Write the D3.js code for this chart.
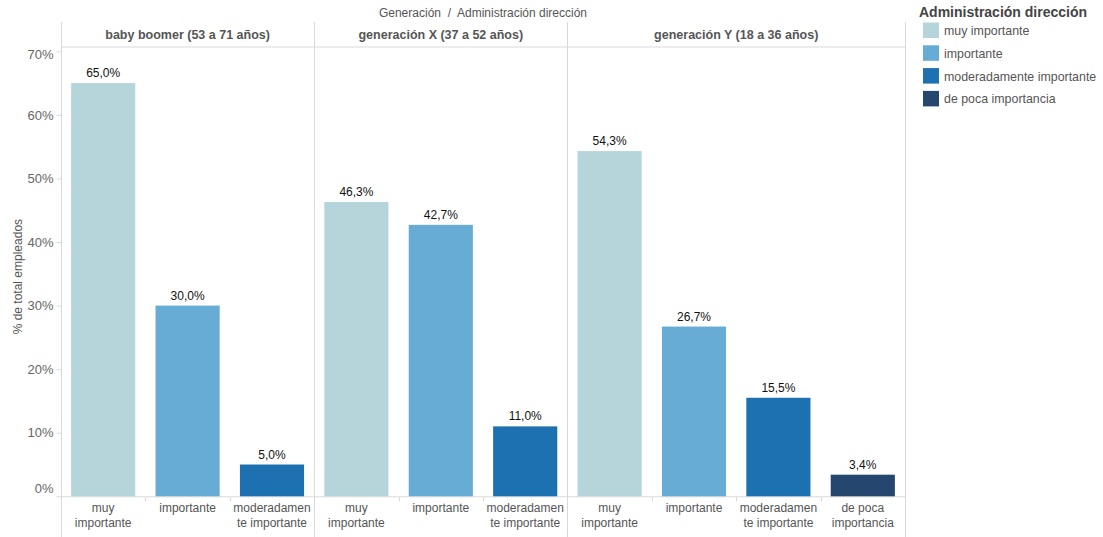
<!DOCTYPE html>
<html>
<head>
<meta charset="utf-8">
<script src="https://cdn.jsdelivr.net/npm/d3@7"></script>
<style>
  body { margin: 0; background: #fff; }
  svg { font-family: "Liberation Sans", Arial, sans-serif; }
</style>
</head>
<body>
<svg id="chart" width="1103" height="537"></svg>
<script>
// Generations (column panels) and their header labels
const generations = ["baby boomer (53 a 71 años)", "generación X (37 a 52 años)", "generación Y (18 a 36 años)"];

// Importance levels (colour categories)
const levels = ["muy importante", "importante", "moderadamente importante", "de poca importancia"];
const levelColors = ["#b6d5db", "#67acd5", "#1e71b0", "#25466f"];

// Axis label lines for each level
const levelLabelLines = [["muy", "importante"], ["importante"], ["moderadamen", "te importante"], ["de poca", "importancia"]];

// % de total empleados, per generation (null = level absent)
const babyBoomer = [65.0, 30.0, 5.0, null];
const generacionX = [46.3, 42.7, 11.0, null];
const generacionY = [54.3, 26.7, 15.5, 3.4];
const seriesByGeneration = [babyBoomer, generacionX, generacionY];

const yTicks = [0, 10, 20, 30, 40, 50, 60, 70];

const svg = d3.select("#chart");
const gridColor = "#d9d9d9";
const textGray = "#555";

const plotLeft = 61, plotRight = 905;
const headerTop = 22, headerBottom = 47;
const y0 = 496.3, yTop70 = 51.3;

const y = d3.scaleLinear().domain([0, 70]).range([y0, yTop70]);

// Panels sized by the number of levels they contain
const panels = seriesByGeneration.map((vals, i) => ({
  name: generations[i],
  rows: levels.map((lv, j) => ({ level: lv, idx: j, value: vals[j] })).filter(d => d.value !== null)
}));
const totalSlots = d3.sum(panels, p => p.rows.length);
const slotW = (plotRight - plotLeft) / totalSlots;
let cursor = plotLeft;
panels.forEach(p => {
  p.x0 = cursor;
  p.x1 = cursor + p.rows.length * slotW;
  cursor = p.x1;
  p.x = d3.scaleBand().domain(p.rows.map(d => d.level)).range([p.x0, p.x1]).paddingInner(0.24).paddingOuter(0.12);
});

// Top title
svg.append("text")
  .attr("x", (plotLeft + plotRight) / 2).attr("y", 17)
  .attr("text-anchor", "middle").attr("fill", textGray).attr("font-size", 12)
  .style("white-space", "pre")
  .text("Generación  /  Administración dirección");

// Header separator line
svg.append("line")
  .attr("x1", plotLeft).attr("x2", plotRight)
  .attr("y1", headerBottom).attr("y2", headerBottom)
  .attr("stroke", gridColor).attr("stroke-width", 1);

// Baseline
svg.append("line")
  .attr("x1", plotLeft).attr("x2", plotRight)
  .attr("y1", y0 + 0.5).attr("y2", y0 + 0.5)
  .attr("stroke", gridColor).attr("stroke-width", 1);

// Panel borders
const borders = [plotLeft].concat(panels.map(p => p.x1));
svg.selectAll("line.border").data(borders).enter().append("line")
  .attr("class", "border")
  .attr("x1", d => Math.round(d) + 0.5).attr("x2", d => Math.round(d) + 0.5)
  .attr("y1", headerTop).attr("y2", 537)
  .attr("stroke", gridColor).attr("stroke-width", 1);

// Y axis (end labels kept inside the plot range)
const yAxis = d3.axisLeft(y).tickValues(yTicks).tickFormat(d => d + "%").tickSize(5).tickPadding(3);
const gy = svg.append("g").attr("transform", `translate(${plotLeft + 0.5},0)`).call(yAxis);
gy.select(".domain").remove();
gy.selectAll(".tick line").attr("stroke", gridColor);
gy.selectAll(".tick text").attr("fill", "#666").attr("font-size", 13)
  .attr("font-family", "'Liberation Sans', Arial, sans-serif")
  .attr("y", d => d === 0 ? -8 : (d === 70 ? 3 : 0));

// Y axis title
svg.append("text")
  .attr("transform", `translate(22,${(y0 + headerBottom) / 2 + 5}) rotate(-90)`)
  .attr("text-anchor", "middle").attr("fill", textGray).attr("font-size", 12)
  .text("% de total empleados");

panels.forEach(p => {
  const g = svg.append("g");

  // Panel header
  g.append("text")
    .attr("x", (p.x0 + p.x1) / 2).attr("y", 39)
    .attr("text-anchor", "middle").attr("fill", textGray)
    .attr("font-size", 12.5).attr("font-weight", "bold")
    .text(p.name);

  // Bars
  g.selectAll("rect").data(p.rows).enter().append("rect")
    .attr("x", d => p.x(d.level))
    .attr("width", p.x.bandwidth())
    .attr("y", d => y(d.value))
    .attr("height", d => y0 - y(d.value))
    .attr("fill", d => levelColors[d.idx]);

  // Value labels
  g.selectAll("text.val").data(p.rows).enter().append("text")
    .attr("class", "val")
    .attr("x", d => p.x(d.level) + p.x.bandwidth() / 2)
    .attr("y", d => y(d.value) - 6)
    .attr("text-anchor", "middle").attr("fill", "#111").attr("font-size", 12)
    .text(d => d.value.toFixed(1).replace(".", ",") + "%");

  // Category tick marks between slots
  const innerTicks = p.rows.slice(1).map((d, i) => p.x0 + (i + 1) * slotW);
  g.selectAll("line.ct").data(innerTicks).enter().append("line")
    .attr("class", "ct")
    .attr("x1", d => Math.round(d) + 0.5).attr("x2", d => Math.round(d) + 0.5)
    .attr("y1", y0 + 1).attr("y2", y0 + 5)
    .attr("stroke", gridColor);

  // Category labels
  const lbl = g.selectAll("text.cat").data(p.rows).enter().append("text")
    .attr("class", "cat")
    .attr("text-anchor", "middle").attr("fill", textGray).attr("font-size", 12);
  lbl.each(function(d) {
    const cx = p.x(d.level) + p.x.bandwidth() / 2;
    levelLabelLines[d.idx].forEach((line, k) => {
      d3.select(this).append("tspan")
        .attr("x", cx).attr("y", 512 + k * 15)
        .text(line);
    });
  });
});

// Legend
const legend = svg.append("g");
legend.append("text")
  .attr("x", 919).attr("y", 17)
  .attr("fill", "#444").attr("font-size", 14).attr("font-weight", "bold")
  .text("Administración dirección");
const items = legend.selectAll("g.item").data(levels).enter().append("g")
  .attr("class", "item")
  .attr("transform", (d, i) => `translate(923,${22.5 + i * 22.8})`);
items.append("rect").attr("width", 16).attr("height", 15.5)
  .attr("fill", (d, i) => levelColors[i]);
items.append("text").attr("x", 21).attr("y", 12.5)
  .attr("fill", textGray).attr("font-size", 12.4)
  .text(d => d);
</script>
</body>
</html>
